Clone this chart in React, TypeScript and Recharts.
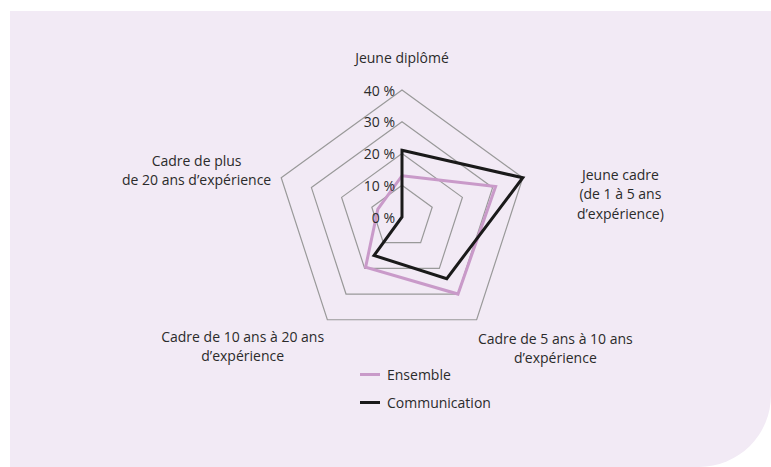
import * as React from 'react';
import { RadarChart, Radar, PolarGrid, PolarAngleAxis, PolarRadiusAxis, Legend } from 'recharts';

const categories = [
  'Jeune diplômé',
  'Jeune cadre (de 1 à 5 ans d’expérience)',
  'Cadre de 5 ans à 10 ans d’expérience',
  'Cadre de 10 ans à 20 ans d’expérience',
  'Cadre de plus de 20 ans d’expérience',
];

const categoryLines = [
  ['Jeune diplômé'],
  ['Jeune cadre', '(de 1 à 5 ans', 'd’expérience)'],
  ['Cadre de 5 ans à 10 ans', 'd’expérience'],
  ['Cadre de 10 ans à 20 ans', 'd’expérience'],
  ['Cadre de plus', 'de 20 ans d’expérience'],
];

const seriesNames = ['Ensemble', 'Communication'];
const ensemble = [13, 31, 30, 19.5, 8];
const communication = [21, 40, 24, 15, 0];

const radiusTicks = [0, 10, 20, 30, 40];

const data = categories.map((c, i) => ({
  subject: c,
  Ensemble: ensemble[i],
  Communication: communication[i],
}));

// label offsets from the recharts tick point (dx, dy of first line centre)
const labelOffsets = [
  [0, -25],
  [90, -1],
  [74, 12],
  [-80, 10],
  [-77, -15],
];

const FONT = '"Open Sans", sans-serif';
const TEXT = '#2b2b2b';

const AngleTick = (props: any) => {
  const { x, y, payload } = props;
  const i = categories.indexOf(payload.value);
  const lines = categoryLines[i] || [payload.value];
  const [dx, dy] = labelOffsets[i] || [0, 0];
  return (
    <text x={x + dx} y={y + dy} textAnchor="middle" fill={TEXT} fontSize={14} fontFamily={FONT}>
      {lines.map((l, k) => (
        <tspan key={k} x={x + dx} y={y + dy + k * 19.5} dominantBaseline="central">{l}</tspan>
      ))}
    </text>
  );
};

const RadiusTick = (props: any) => {
  const { x, y, payload } = props;
  return (
    <text x={x - 7} y={y} textAnchor="end" dominantBaseline="central" fill={TEXT} fontSize={14} fontFamily={FONT}>
      {payload.value} %
    </text>
  );
};

const LegendBox = (props: any) => {
  const payload = [...(props.payload || [])].sort(
    (a: any, b: any) => seriesNames.indexOf(a.value) - seriesNames.indexOf(b.value)
  );
  return (
    <div style={{ fontFamily: FONT, fontSize: 14, color: TEXT }}>
      {payload.map((p: any) => (
        <div key={p.value} style={{ display: 'flex', alignItems: 'center', height: 28 }}>
          <span style={{ display: 'inline-block', width: 20, height: 3, background: p.color, marginRight: 7 }} />
          <span>{p.value}</span>
        </div>
      ))}
    </div>
  );
};

export default function App() {
  return (
    <div
      style={{
        position: 'absolute',
        left: 10,
        top: 11,
        width: 761,
        height: 456,
        background: '#f2eaf5',
        borderBottomRightRadius: 72,
      }}
    >
      <RadarChart width={761} height={456} cx={392} cy={206} outerRadius={127} data={data}>
        <PolarGrid gridType="polygon" radialLines={false} stroke="#999999" strokeWidth={1.2} />
        <PolarAngleAxis dataKey="subject" tick={<AngleTick />} tickLine={false} axisLine={false} />
        <PolarRadiusAxis
          angle={90}
          domain={[0, 40]}
          ticks={radiusTicks as any}
          tickCount={5}
          tick={<RadiusTick />}
          axisLine={false}
          tickLine={false}
        />
        <Radar
          name={seriesNames[0]}
          dataKey="Ensemble"
          stroke="#c99ac9"
          strokeWidth={3}
          fill="none"
          fillOpacity={0}
          isAnimationActive={false}
        />
        <Radar
          name={seriesNames[1]}
          dataKey="Communication"
          stroke="#1a1a1a"
          strokeWidth={3}
          fill="none"
          fillOpacity={0}
          isAnimationActive={false}
        />
        <Legend
          content={<LegendBox />}
          wrapperStyle={{ left: 350, top: 349, bottom: 'auto', width: 'auto' }}
        />
      </RadarChart>
    </div>
  );
}
